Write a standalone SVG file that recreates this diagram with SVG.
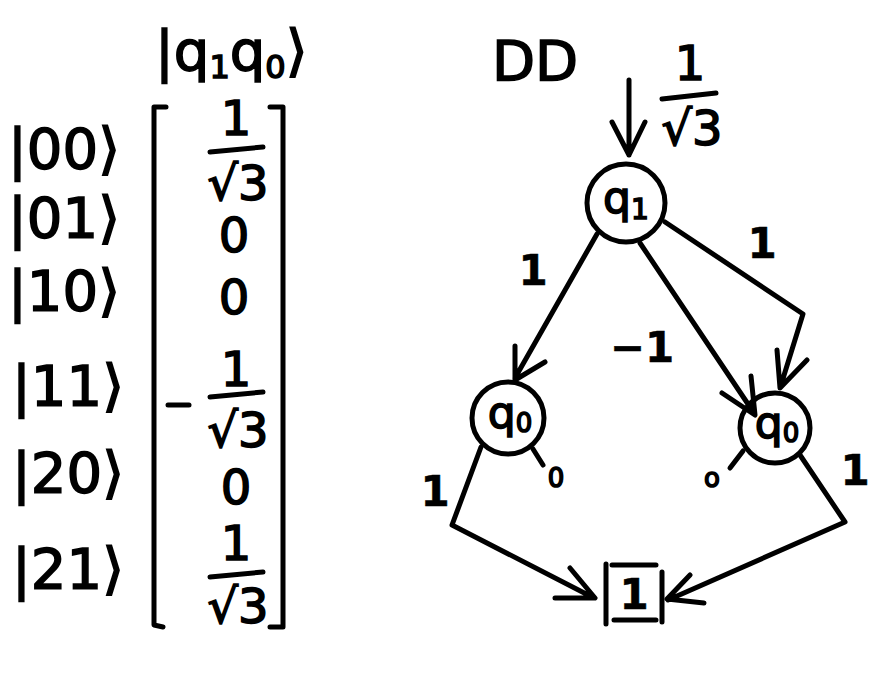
<svg xmlns="http://www.w3.org/2000/svg" width="880" height="686" viewBox="0 0 880 686">
<style>
text{font-family:"DejaVu Sans","Liberation Sans",sans-serif;fill:#000;stroke:#000;stroke-width:1.6px;}
.t{font-size:56px;}
.e{font-size:48px;text-anchor:middle;}
.n{font-size:44px;text-anchor:middle;}
.lb{font-size:42px;text-anchor:middle;font-weight:bold;stroke-width:0.5px;}
.sm{font-size:26px;text-anchor:middle;}
.s{stroke:#000;stroke-width:5;fill:none;stroke-linecap:round;stroke-linejoin:round;}
</style>
<rect width="880" height="686" fill="#fff"/>
<g id="vector">
<text class="t" x="155" y="70" font-size="58">|q<tspan font-size="32" dy="8">1</tspan><tspan dy="-8">q</tspan><tspan font-size="32" dy="8">0</tspan><tspan dy="-8">⟩</tspan></text>
<text class="t" x="8" y="168">|00⟩</text>
<text class="t" x="8" y="237">|01⟩</text>
<text class="t" x="8" y="310">|10⟩</text>
<text class="t" x="12" y="405">|11⟩</text>
<text class="t" x="12" y="492">|20⟩</text>
<text class="t" x="12" y="588">|21⟩</text>
<path class="s" d="M166 107 L154 107 L154 625 L163 627"/>
<path class="s" d="M270 107 L283 107 L283 627 L270 627"/>
<text class="e" x="236" y="135">1</text>
<line class="s" x1="210" y1="152" x2="263" y2="147"/>
<text class="e" x="238" y="200">√3</text>
<text class="e" x="234" y="252">0</text>
<text class="e" x="234" y="314">0</text>
<line class="s" x1="168" y1="405" x2="189" y2="405"/>
<text class="e" x="236" y="386">1</text>
<line class="s" x1="210" y1="397" x2="263" y2="392"/>
<text class="e" x="238" y="447">√3</text>
<text class="e" x="236" y="504">0</text>
<text class="e" x="236" y="560">1</text>
<line class="s" x1="210" y1="577" x2="263" y2="572"/>
<text class="e" x="238" y="623">√3</text>
</g>
<text class="t" x="492" y="80" font-size="58">DD</text>
<g id="connectors">
<path class="s" d="M629 80 L629 155 M612 122 L629 155 L645 122"/>
<text class="e" x="690" y="80">1</text>
<line class="s" x1="662" y1="99" x2="716" y2="93"/>
<text class="e" x="692" y="145">√3</text>
<path class="s" d="M597 234 L515 378 M515 346 L515 380 L545 362"/>
<text class="lb" x="533" y="285">1</text>
<path class="s" d="M640 243 L754 413 M722 393 L755 415 L751 376"/>
<text class="lb" x="642" y="362">−1</text>
<path class="s" d="M665 222 L803 314 L781 385 M777 350 L780 388 L807 360"/>
<text class="lb" x="762" y="258">1</text>
<path class="s" d="M481 447 L452 525 L594 598 M570 568 L595 598 L555 598"/>
<text class="lb" x="435" y="506">1</text>
<path class="s" d="M533 449 L543 465"/>
<text class="sm" x="556" y="487">0</text>
<path class="s" d="M800 455 L845 522 L668 600 M690 575 L667 599 L704 603"/>
<text class="lb" x="855" y="485">1</text>
<path class="s" d="M743 451 L730 468"/>
<text class="sm" x="712" y="487">o</text>
</g>
<g id="q1">
<circle class="s" cx="626" cy="203" r="39"/>
<text class="n" x="626" y="213">q<tspan font-size="28" dy="6">1</tspan></text>
</g>
<g id="q0_left">
<circle class="s" cx="508" cy="418" r="36"/>
<text class="n" x="510" y="428">q<tspan font-size="26" dy="4">0</tspan></text>
</g>
<g id="q0_right">
<circle class="s" cx="775" cy="428" r="35"/>
<text class="n" x="777" y="438">q<tspan font-size="26" dy="4">0</tspan></text>
</g>
<g id="terminal">
<path class="s" d="M606 564 L606 624 M662 572 L662 622 M612 565 L656 565 M614 620 L656 620"/>
<text class="lb" x="634" y="609">1</text>
</g>
</svg>
